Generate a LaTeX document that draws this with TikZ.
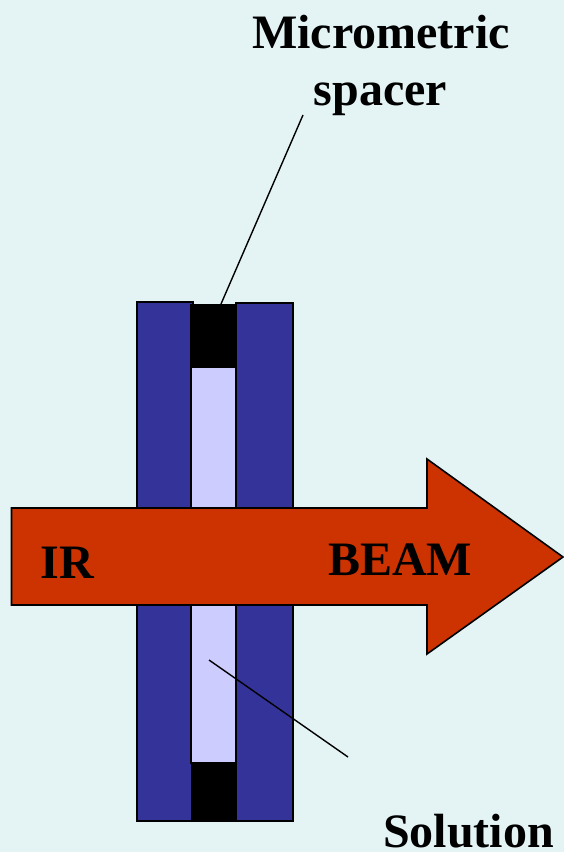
\documentclass[tikz,border=0pt]{standalone}
\usepackage{fontspec}
\setmainfont{Liberation Serif}
\definecolor{bg}{HTML}{E4F4F5}
\definecolor{plate}{HTML}{333399}
\definecolor{sol}{HTML}{CCCCFF}
\definecolor{beam}{HTML}{CC3300}
\tikzset{
  plate/.style={draw=black,line width=2pt,fill=plate},
  cell/.style={draw=black,line width=2pt,fill=sol},
  spacerblock/.style={draw=black,line width=1pt,fill=black},
  lead/.style={draw=black,line width=1.4pt},
  lab/.style={font=\fontsize{48}{57}\selectfont\bfseries,inner sep=0pt,anchor=base}
}
\begin{document}
\begin{tikzpicture}[x=1pt,y=-1pt]
\path[use as bounding box,fill=bg] (0,0) rectangle (564,852);
\path[plate] (137,302) rectangle (192.5,820.5);
\path[plate] (236,303) rectangle (293,821);
\path[cell] (191,367) rectangle (236,763);
\path[spacerblock] (190.5,304.5) rectangle (236.5,367);
\path[spacerblock] (191,763) rectangle (236.5,821.5);
\draw[draw=black,line width=1.6pt,fill=beam,line join=miter] (11.5,508) -- (427,508) -- (427,459) -- (563,557) -- (427,654) -- (427,605) -- (11.5,605) -- cycle;
\coordinate (spacerEnd) at (221,304);
\coordinate (spacerTop) at (303,115);
\coordinate (solStart) at (209,660);
\coordinate (solEnd) at (348,757);
\draw[lead] (spacerTop) -- (spacerEnd);
\draw[lead] (solStart) -- (solEnd);
\node[lab] (micro) at (381,48) {Micrometric};
\node[lab] (spacer) at (380.5,105) {spacer};
\node[lab] (ir) at (67,578) {IR};
\node[lab] (beamlabel) at (400,575) {BEAM};
\node[lab] (solution) at (468.5,847) {Solution};
\end{tikzpicture}
\end{document}
